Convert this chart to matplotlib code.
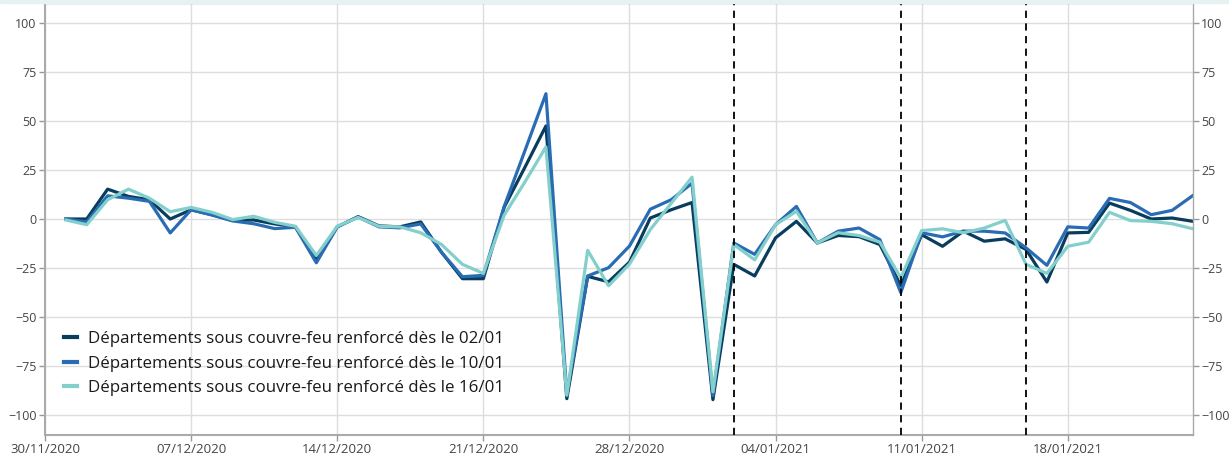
# Couvre-feu renforcé : évolution par groupe de départements
import pandas as pd
import matplotlib.pyplot as plt
import matplotlib.dates as mdates
from matplotlib.patches import Rectangle

plt.rcParams['font.family'] = ['Open Sans', 'DejaVu Sans']

# daily values, 01/12/2020 -> 24/01/2021
dates = pd.date_range('2020-12-01', '2021-01-24', freq='D')

dep_0201 = [0, 0, 15.2, 11.5, 9.8, 0, 4.7, 2.2, -0.7, -0.5,
            -2.5, -4, -20.6, -4, 1.2, -3.5, -4, -1.5, -17, -30.4,
            -30.4, 6, 26.5, 47.4, -91.5, -29.2, -32, -22, 0.5, 4.7,
            8.4, -92, -23.1, -29, -9.6, -1.2, -12.2, -8.4, -9, -13,
            -34, -8, -13.9, -6.2, -11.3, -10.1, -15.5, -32.1, -7.1, -6.8,
            8.1, 4.4, 0, 0.5, -1.2]
dep_1001 = [0, -1.5, 11.8, 10.6, 9, -7.1, 4.7, 2, -1, -2.4,
            -4.9, -4.2, -22.3, -4, 1, -4, -4.5, -2.5, -17, -29.4,
            -28.7, 6.4, 35, 63.8, -89, -29, -24.8, -13.8, 5, 9.8,
            18.2, -90, -12.2, -18, -2.9, 6.4, -12.2, -6.2, -4.6, -10.5,
            -37.5, -7, -9.1, -6.2, -6.2, -7.1, -14.7, -23.6, -4, -4.6,
            10.5, 8.4, 2.2, 4.4, 12]
dep_1601 = [-0.5, -2.9, 9.8, 15.2, 10.6, 3.7, 5.9, 3.4, -0.3, 1.4,
            -1.7, -3.7, -18.6, -3.7, 0.8, -3.7, -4, -7, -13, -23.1,
            -27.7, 2, 19, 36.7, -89.8, -16, -34, -23, -5.4, 8,
            21.3, -88, -13, -20.8, -2.9, 3.9, -12.2, -7, -8.4, -11.8,
            -30, -5.9, -5, -7, -4.6, -0.7, -23.1, -27.7, -13.9, -11.8,
            3.4, -0.8, -1.2, -2.4, -5]

labels = ['Départements sous couvre-feu renforcé dès le 02/01',
          'Départements sous couvre-feu renforcé dès le 10/01',
          'Départements sous couvre-feu renforcé dès le 16/01']
colors = ['#083d5e', '#2a6cb4', '#82cfcc']
curfew_dates = pd.to_datetime(['2021-01-02', '2021-01-10', '2021-01-16'])

fig = plt.figure(figsize=(12.29, 4.54), dpi=100)
ax = fig.add_axes([45/1229, 19/454, 1148/1229, 432/454])

# thin band at the very top (clipped title area)
fig.patches.append(Rectangle((0, 451/454), 1, 3/454, transform=fig.transFigure,
                             color='#e6f2f2', zorder=0))

for vals, lab, col in zip([dep_0201, dep_1001, dep_1601], labels, colors):
    ax.plot(dates, vals, color=col, lw=2.3, label=lab)

for d in curfew_dates:
    ax.axvline(d, color='black', lw=1.3, ls=(0, (4, 3)), zorder=3)

ax.set_xlim(pd.Timestamp('2020-11-30'), pd.Timestamp('2021-01-24'))
ax.set_ylim(-110, 110)
ax.set_yticks([-100, -75, -50, -25, 0, 25, 50, 75, 100])
ax.set_xticks(pd.date_range('2020-11-30', '2021-01-18', freq='7D'))
ax.xaxis.set_major_formatter(mdates.DateFormatter('%d/%m/%Y'))

ax.grid(True, color='#dddddd', lw=1)
ax.set_axisbelow(True)
ax.tick_params(axis='both', labelsize=9.5, colors='#999999', labelcolor='#444444',
               length=4, width=1)
ax.tick_params(axis='y', right=True, labelright=True, labelsize=9, pad=2)
ax.tick_params(axis='x', pad=2)
for s in ax.spines.values():
    s.set_color('#aaaaaa')
    s.set_linewidth(1)
ax.spines['left'].set_linewidth(1.5)
ax.spines['bottom'].set_linewidth(1.5)

leg = ax.legend(loc='lower left', bbox_to_anchor=(0.0165, 0.09), frameon=False,
                fontsize=12.2, handlelength=0.8, handletextpad=0.6, labelspacing=0.5,
                borderaxespad=0, borderpad=0)
for t in leg.get_texts():
    t.set_color('#1a1a1a')
for h in leg.get_lines():
    h.set_linewidth(3)

fig.savefig('out.png', dpi=100)
